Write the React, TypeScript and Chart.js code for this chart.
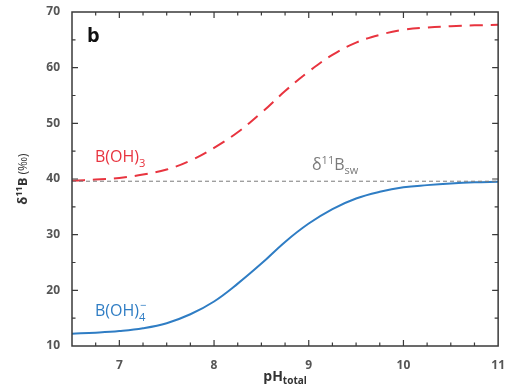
import React, { useEffect, useRef } from "react";
import { Chart, registerables } from "chart.js";

Chart.register(...registerables);

const phValues = [6.5, 6.75, 7, 7.25, 7.5, 7.75, 8, 8.25, 8.5, 8.75, 9, 9.25, 9.5, 9.75, 10, 10.25, 10.5, 10.75, 11];
const borateValues = [12.2, 12.4, 12.7, 13.2, 14.1, 15.7, 18.0, 21.2, 24.8, 28.7, 32.0, 34.6, 36.5, 37.7, 38.5, 38.9, 39.2, 39.4, 39.5];
const boricValues = [39.7, 39.9, 40.2, 40.8, 41.7, 43.3, 45.6, 48.4, 51.9, 55.8, 59.3, 62.3, 64.5, 65.9, 66.8, 67.2, 67.45, 67.6, 67.7];
const seawaterValue = 39.6;
const xTickValues = [7, 8, 9, 10, 11];
const yTickValues = [10, 20, 30, 40, 50, 60, 70];

const RED = "#e8343f";
const BLUE = "#2f7dc4";
const GRAY = "#7a7a7a";
const AXIS = "#3a3a3a";
const FONT = "'Open Sans', 'DejaVu Sans', sans-serif";

const decorPlugin = {
  id: "decor",
  afterDraw(chart: any) {
    const { ctx, chartArea: a, scales } = chart;
    const xs = scales.x;
    const ys = scales.y;
    ctx.save();
    ctx.strokeStyle = AXIS;
    ctx.lineWidth = 1.5;
    ctx.strokeRect(a.left, a.top, a.right - a.left, a.bottom - a.top);
    ctx.lineWidth = 1.2;
    for (let v = 6.75; v < 11; v += 0.25) {
      const px = xs.getPixelForValue(v);
      const major = Math.abs(v - Math.round(v)) < 1e-6;
      const len = major ? 6 : 3.5;
      ctx.beginPath();
      ctx.moveTo(px, a.bottom);
      ctx.lineTo(px, a.bottom - len);
      ctx.moveTo(px, a.top);
      ctx.lineTo(px, a.top + len);
      ctx.stroke();
    }
    for (let v = 15; v < 70; v += 5) {
      const py = ys.getPixelForValue(v);
      const major = v % 10 === 0;
      const len = major ? 6 : 3.5;
      ctx.beginPath();
      ctx.moveTo(a.left, py);
      ctx.lineTo(a.left + len, py);
      ctx.moveTo(a.right, py);
      ctx.lineTo(a.right - len, py);
      ctx.stroke();
    }
    ctx.fillStyle = "#111";
    ctx.font = `bold 20px ${FONT}`;
    ctx.textBaseline = "alphabetic";
    ctx.textAlign = "left";
    ctx.fillText("b", a.left + 15, a.top + 30);

    const drawSub = (x: number, y: number, main: string, sub: string, sup: string, color: string, size: number) => {
      ctx.fillStyle = color;
      ctx.font = `${size}px ${FONT}`;
      ctx.fillText(main, x, y);
      const w = ctx.measureText(main).width;
      ctx.font = `${size * 0.7}px ${FONT}`;
      if (sub) ctx.fillText(sub, x + w, y + size * 0.3);
      if (sup) ctx.fillText(sup, x + w + 1, y - size * 0.42);
    };
    drawSub(95, 162, "B(OH)", "3", "", RED, 16);
    drawSub(95, 316, "B(OH)", "4", "\u2212", BLUE, 16);

    ctx.fillStyle = GRAY;
    let x = 312;
    const y = 170;
    ctx.font = `16px ${FONT}`;
    ctx.fillText("\u03B4", x, y);
    x += ctx.measureText("\u03B4").width;
    ctx.font = `11px ${FONT}`;
    ctx.fillText("11", x, y - 6);
    x += ctx.measureText("11").width;
    ctx.font = `16px ${FONT}`;
    ctx.fillText("B", x, y);
    x += ctx.measureText("B").width;
    ctx.font = `11px ${FONT}`;
    ctx.fillText("sw", x, y + 4);

    ctx.fillStyle = "#333";
    ctx.font = `bold 14px ${FONT}`;
    const pw = ctx.measureText("pH").width;
    ctx.font = `bold 10px ${FONT}`;
    const tw = ctx.measureText("total").width;
    const tx = (a.left + a.right) / 2 - (pw + tw) / 2;
    ctx.font = `bold 14px ${FONT}`;
    ctx.fillText("pH", tx, 381);
    ctx.font = `bold 10px ${FONT}`;
    ctx.fillText("total", tx + pw, 384);

    ctx.save();
    ctx.translate(27, (a.top + a.bottom) / 2);
    ctx.rotate(-Math.PI / 2);
    ctx.fillStyle = "#333";
    const parts: [string, string, number][] = [
      ["\u03B4", `bold 13px ${FONT}`, 0],
      ["11", `bold 9px ${FONT}`, -5],
      ["B", `bold 13px ${FONT}`, 0],
      [" (\u2030)", `12px ${FONT}`, 0],
    ];
    let total = 0;
    for (const p of parts) {
      ctx.font = p[1];
      total += ctx.measureText(p[0]).width;
    }
    let cx = -total / 2;
    for (const p of parts) {
      ctx.font = p[1];
      ctx.fillText(p[0], cx, p[2]);
      cx += ctx.measureText(p[0]).width;
    }
    ctx.restore();
    ctx.restore();
  },
};

export default function App() {
  const ref = useRef<HTMLCanvasElement | null>(null);
  useEffect(() => {
    if (!ref.current) return;
    const chart = new Chart(ref.current, {
      type: "line",
      data: {
        datasets: [
          {
            label: "seawater",
            data: [
              { x: 6.5, y: seawaterValue },
              { x: 11, y: seawaterValue },
            ],
            borderColor: GRAY,
            borderWidth: 1,
            borderDash: [4, 3],
            pointRadius: 0,
          },
          {
            label: "B(OH)3",
            data: phValues.map((p, i) => ({ x: p, y: boricValues[i] })),
            borderColor: RED,
            borderWidth: 2,
            borderDash: [13, 8],
            pointRadius: 0,
            tension: 0.4,
          },
          {
            label: "B(OH)4-",
            data: phValues.map((p, i) => ({ x: p, y: borateValues[i] })),
            borderColor: BLUE,
            borderWidth: 2,
            pointRadius: 0,
            tension: 0.4,
          },
        ],
      },
      options: {
        responsive: false,
        animation: false,
        layout: { padding: { top: 12, right: 6, left: 0, bottom: 0 } },
        plugins: { legend: { display: false }, tooltip: { enabled: false } },
        scales: {
          x: {
            type: "linear",
            min: 6.5,
            max: 11,
            grid: { display: false },
            border: { display: false },
            afterBuildTicks: (s: any) => {
              s.ticks = xTickValues.map((v) => ({ value: v }));
            },
            afterFit: (s: any) => {
              s.height = 43;
            },
            ticks: {
              color: "#555",
              font: { family: FONT, size: 12, weight: "bold" },
              padding: 4,
              maxRotation: 0,
              callback: (v: any) => String(v),
            },
          },
          y: {
            type: "linear",
            min: 10,
            max: 70,
            grid: { display: false },
            border: { display: false },
            afterBuildTicks: (s: any) => {
              s.ticks = yTickValues.map((v) => ({ value: v }));
            },
            afterFit: (s: any) => {
              s.width = 72;
            },
            ticks: {
              color: "#555",
              font: { family: FONT, size: 12, weight: "bold" },
              padding: 4,
              callback: (v: any) => String(v),
            },
          },
        },
      },
      plugins: [decorPlugin],
    } as any);
    return () => chart.destroy();
  }, []);
  return (
    <div style={{ position: "fixed", left: 0, top: 0, width: 509, height: 389, background: "#fff" }}>
      <canvas ref={ref} width={509} height={389} />
    </div>
  );
}
